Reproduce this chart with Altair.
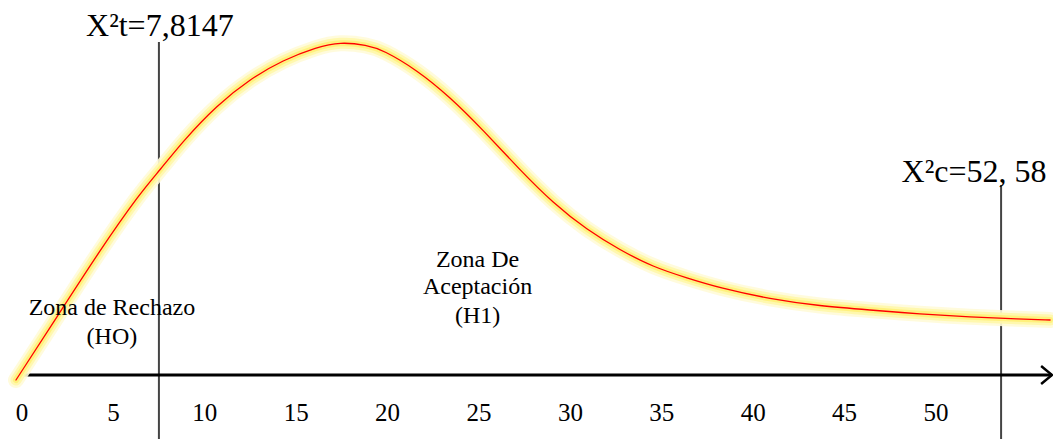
import altair as alt
import pandas as pd

# curve
curve_x = [-0.33, 1.91, 4.27, 6.46, 7.55, 8.81, 10.67, 12.47, 14.28, 16.14, 17.40, 18.87,
           19.75, 21.61, 23.41, 25.22, 27.24, 29.05, 30.91, 32.71, 34.52, 36.38, 38.18,
           40.92, 43.65, 46.39, 49.12, 51.86, 54.60, 56.24]
curve_y = [-5, 58, 125, 182, 205, 234, 270, 296, 315, 328, 333, 330,
           325, 305, 278, 245, 205, 172, 145, 125, 108, 97, 87,
           76, 69, 65, 61, 58, 56, 55]

tick_values = [0, 5, 10, 15, 20, 25, 30, 35, 40, 45, 50]
crit_x = [7.49, 53.56]
crit_top = [333, 190]
crit_labels = ["X²t=7,8147", "X²c=52, 58"]
crit_label_x = [7.54, 52.08]
crit_label_y = [349, 203]

zone_text = ["Zona de Rechazo", "(HO)", "Zona De", "Aceptación", "(H1)"]
zone_x = [4.92, 4.92, 24.92, 24.92, 24.92]
zone_y = [67, 38, 115, 88, 59]

XD = [-0.766, 56.40]
YD = [-64, 367]
FONT = "Liberation Serif"

xs = alt.Scale(domain=XD, nice=False, zero=False)
ys = alt.Scale(domain=YD, nice=False, zero=False)

cdf = pd.DataFrame({"x": curve_x, "y": curve_y, "o": range(len(curve_x))})

def curve_layer(color, width, opacity):
    return alt.Chart(cdf).mark_line(color=color, strokeWidth=width, opacity=opacity,
                                    interpolate="basis", strokeCap="round").encode(
        x=alt.X("x:Q", scale=xs, axis=None),
        y=alt.Y("y:Q", scale=ys, axis=None),
        order="o:Q")

glow = (curve_layer("#fffbd8", 16, 0.9) + curve_layer("#fff7a8", 11, 0.9)
        + curve_layer("#ffef78", 6, 0.9) + curve_layer("#ff0000", 1.3, 1))

# x axis line
axdf = pd.DataFrame({"x": [0.1], "x2": [56.35], "y": [0]})
axis_line = alt.Chart(axdf).mark_rule(color="black", strokeWidth=3).encode(
    x=alt.X("x:Q", scale=xs, axis=None), x2="x2:Q", y=alt.Y("y:Q", scale=ys, axis=None))

arrdf = pd.DataFrame({"x": [55.75, 56.35, 55.75], "y": [9, 0, -9], "o": [0, 1, 2]})
arrow = alt.Chart(arrdf).mark_line(color="black", strokeWidth=2.5).encode(
    x=alt.X("x:Q", scale=xs, axis=None), y=alt.Y("y:Q", scale=ys, axis=None), order="o:Q")

# critical lines
vdf = pd.DataFrame({"x": crit_x, "top": crit_top, "bot": [YD[0]] * 2})
vlines = alt.Chart(vdf).mark_rule(color="#444444", strokeWidth=2).encode(
    x=alt.X("x:Q", scale=xs, axis=None),
    y=alt.Y("top:Q", scale=ys, axis=None), y2="bot:Q")

ldf = pd.DataFrame({"x": crit_label_x, "y": crit_label_y, "t": crit_labels})
labels = alt.Chart(ldf).mark_text(font=FONT, fontSize=32, color="black", baseline="middle",
                                  align="center").encode(
    x=alt.X("x:Q", scale=xs, axis=None), y=alt.Y("y:Q", scale=ys, axis=None), text="t:N")

zdf = pd.DataFrame({"x": zone_x, "y": zone_y, "t": zone_text})
zones = alt.Chart(zdf).mark_text(font=FONT, fontSize=24, color="black", baseline="middle",
                                 align="center").encode(
    x=alt.X("x:Q", scale=xs, axis=None), y=alt.Y("y:Q", scale=ys, axis=None), text="t:N")

tdf = pd.DataFrame({"x": tick_values, "y": [-38] * len(tick_values),
                    "t": [str(v) for v in tick_values]})
ticks = alt.Chart(tdf).mark_text(font=FONT, fontSize=25, color="black", baseline="middle",
                                 align="center").encode(
    x=alt.X("x:Q", scale=xs, axis=None), y=alt.Y("y:Q", scale=ys, axis=None), text="t:N")

chart = alt.layer(vlines, axis_line, arrow, glow, zones, labels, ticks).properties(
    width=1045, height=431, padding=0,
    autosize=alt.AutoSizeParams(type="none")
).configure_view(stroke=None)

chart.save("out.html", embed_options={"renderer": "svg", "actions": False})
